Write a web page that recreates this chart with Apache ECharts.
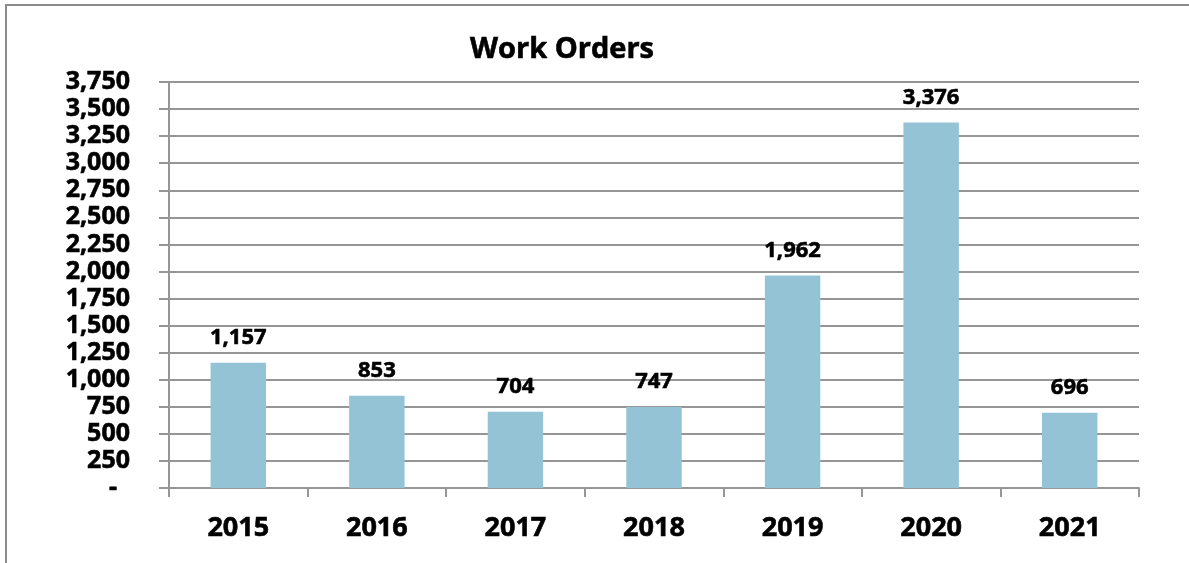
<!DOCTYPE html>
<html>
<head>
<meta charset="utf-8">
<script src="https://cdn.jsdelivr.net/npm/echarts@6/dist/echarts.min.js"></script>
<style>
  html, body { margin: 0; padding: 0; background: #fff; }
  #main { width: 1189px; height: 563px; }
</style>
</head>
<body>
<div id="main"></div>
<script>
var years = ['2015', '2016', '2017', '2018', '2019', '2020', '2021'];
var workOrders = [1157, 853, 704, 747, 1962, 3376, 696];

// accounting style: zero shown as a dash
function fmtNum(v) {
    if (v === 0) {
        return '-  ';
    }
    return String(v).replace(/\B(?=(\d{3})+(?!\d))/g, ',');
}

var myChart = echarts.init(document.getElementById('main'));
var gray = '#969696';
var font = '"Open Sans", "Liberation Sans", sans-serif';

var option = {
    backgroundColor: '#fff',
    title: {
        text: 'Work Orders',
        left: 557,
        top: 30,
        textAlign: 'center',
        textStyle: {
            fontFamily: font,
            fontSize: 29,
            fontWeight: 'bold',
            color: '#000',
            textBorderColor: '#000',
            textBorderWidth: 0.6
        }
    },
    graphic: [{
        type: 'rect',
        shape: { x: 6, y: 5, width: 1200, height: 600 },
        style: { fill: 'none', stroke: '#8c8c8c', lineWidth: 2 },
        silent: true
    }],
    grid: {
        left: 169,
        right: 50,
        top: 82,
        bottom: 75
    },
    xAxis: {
        type: 'category',
        data: years,
        axisLine: { lineStyle: { color: gray, width: 2 } },
        axisTick: { show: true, length: 9, lineStyle: { color: gray, width: 2 } },
        axisLabel: {
            margin: 27,
            fontFamily: font,
            fontSize: 27,
            fontWeight: 'bold',
            color: '#000',
            textBorderColor: '#000',
            textBorderWidth: 0.6
        }
    },
    yAxis: {
        type: 'value',
        min: 0,
        max: 3750,
        interval: 250,
        axisLine: { show: true, lineStyle: { color: gray, width: 2 } },
        axisTick: { show: true, length: 10, lineStyle: { color: gray, width: 2 } },
        splitLine: { lineStyle: { color: gray, width: 2 } },
        axisLabel: {
            margin: 39,
            fontFamily: font,
            fontSize: 25,
            fontWeight: 'bold',
            color: '#000',
            textBorderColor: '#000',
            textBorderWidth: 0.6,
            formatter: fmtNum
        }
    },
    series: [{
        name: 'Work Orders',
        type: 'bar',
        barWidth: '40%',
        itemStyle: { color: '#93c3d5' },
        label: {
            show: true,
            position: 'top',
            distance: 14,
            fontFamily: font,
            fontSize: 22,
            fontWeight: 'bold',
            color: '#000',
            textBorderColor: '#000',
            textBorderWidth: 0.6,
            formatter: function (p) { return fmtNum(p.value); }
        },
        data: workOrders
    }]
};

myChart.setOption(option);
</script>
</body>
</html>
